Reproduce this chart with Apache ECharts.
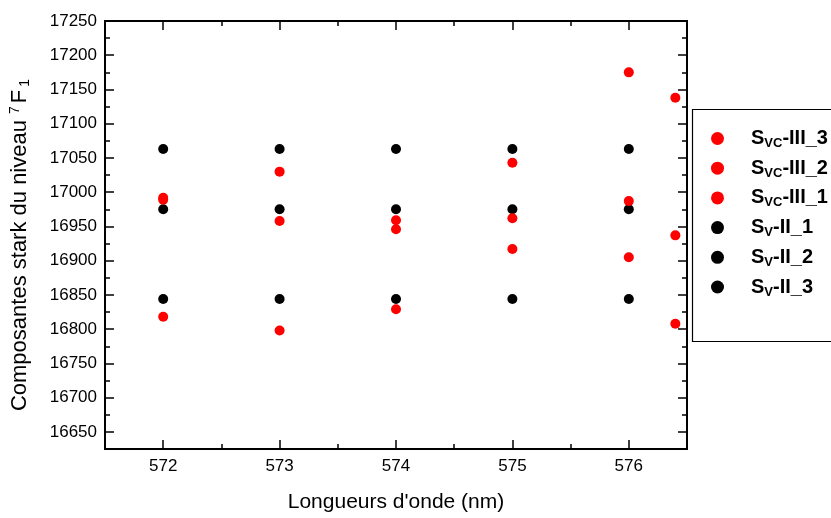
<!DOCTYPE html>
<html><head><meta charset="utf-8">
<script src="https://cdn.jsdelivr.net/npm/echarts@6/dist/echarts.min.js"></script>
<style>html,body{margin:0;padding:0;background:#fff}#c{width:831px;height:518px}</style>
</head><body><div id="c"></div>
<script>
// Data
const redWavelengths = [572, 573, 574, 575, 576, 576.4];
const blackWavelengths = [572, 573, 574, 575, 576];
const svcIII3 = [16992, 17030, 16959, 17043, 17175, 17138];
const svcIII2 = [16989, 16958, 16946, 16962, 16987, 16937];
const svcIII1 = [16818, 16798, 16829, 16917, 16905, 16808];
const svII1 = [17063, 17063, 17063, 17063, 17063];
const svII2 = [16975, 16975, 16975, 16975, 16975];
const svII3 = [16844, 16844, 16844, 16844, 16844];
const xMajorTicks = [572, 573, 574, 575, 576];
const yMajorTicks = [16650, 16700, 16750, 16800, 16850, 16900, 16950, 17000, 17050, 17100, 17150, 17200, 17250];

const FONT = '"Liberation Sans", Arial, sans-serif';
const zip = (xs, ys) => xs.map((x, i) => [x, ys[i]]);

const X_MIN = 571.5, X_MAX = 576.5, Y_MIN = 16625, Y_MAX = 17250;

function xAx(pos, major, labels) {
  return {
    type: 'value', position: pos, min: X_MIN, max: X_MAX,
    interval: 0.5,
    axisLine: { show: true, onZero: false, lineStyle: { color: '#000', width: 2 } },
    splitLine: { show: false },
    axisTick: major
      ? { show: true, inside: true, length: 9, customValues: xMajorTicks, lineStyle: { color: '#000', width: 1.5 } }
      : { show: true, inside: true, length: 5, lineStyle: { color: '#000', width: 1.5 } },
    axisLabel: labels
      ? { show: true, customValues: xMajorTicks, margin: 9, fontFamily: FONT, fontSize: 17, color: '#000', formatter: v => String(v) }
      : { show: false }
  };
}
function yAx(pos, major, labels) {
  return {
    type: 'value', position: pos, min: Y_MIN, max: Y_MAX,
    interval: 25,
    axisLine: { show: true, onZero: false, lineStyle: { color: '#000', width: 2 } },
    splitLine: { show: false },
    axisTick: major
      ? { show: true, inside: true, length: 9, customValues: yMajorTicks, lineStyle: { color: '#000', width: 1.5 } }
      : { show: true, inside: true, length: 5, lineStyle: { color: '#000', width: 1.5 } },
    axisLabel: labels
      ? { show: true, customValues: yMajorTicks, margin: 8, fontFamily: FONT, fontSize: 17, color: '#000', formatter: v => String(v) }
      : { show: false }
  };
}

const xAxes = [xAx('bottom', true, true), xAx('bottom', false, false), xAx('top', true, false), xAx('top', false, false)];
xAxes[0].name = "Longueurs d'onde (nm)";
xAxes[0].nameLocation = 'middle';
xAxes[0].nameGap = 43;
xAxes[0].nameTextStyle = { fontFamily: FONT, fontSize: 21, color: '#000' };

const yAxes = [yAx('left', true, true), yAx('left', false, false), yAx('right', true, false), yAx('right', false, false)];
yAxes[0].name = 'Composantes stark du niveau {sup|7}F{sub|1}';
yAxes[0].nameLocation = 'middle';
yAxes[0].nameGap = 73;
yAxes[0].nameTextStyle = {
  fontFamily: FONT, fontSize: 22, color: '#000', padding: [0, 20, 0, 0],
  rich: {
    sup: { fontFamily: FONT, fontSize: 14, color: '#000', padding: [0, 3, 10, 0] },
    sub: { fontFamily: FONT, fontSize: 14, color: '#000', padding: [10, 0, 0, 3] }
  }
};

const legendRich = {
  b: { fontFamily: FONT, fontSize: 20, fontWeight: 'bold', color: '#000', lineHeight: 22 },
  s: { fontFamily: FONT, fontSize: 13, fontWeight: 'bold', color: '#000', padding: [10, 0, 0, 0], lineHeight: 22 }
};
const legendNames = {
  'SVC-III_3': '{b|S}{s|VC}{b|-III_3}',
  'SVC-III_2': '{b|S}{s|VC}{b|-III_2}',
  'SVC-III_1': '{b|S}{s|VC}{b|-III_1}',
  'SV-II_1': '{b|S}{s|V}{b|-II_1}',
  'SV-II_2': '{b|S}{s|V}{b|-II_2}',
  'SV-II_3': '{b|S}{s|V}{b|-II_3}'
};

function sc(name, xs, ys, color) {
  return {
    name, type: 'scatter', xAxisIndex: 0, yAxisIndex: 0,
    data: zip(xs, ys), symbol: 'circle', symbolSize: 10,
    itemStyle: { color, opacity: 1 }, z: color === '#ff0000' ? 3 : 2
  };
}

const chart = echarts.init(document.getElementById('c'), null, { renderer: 'canvas' });
chart.setOption({
  animation: false,
  backgroundColor: '#fff',
  grid: { left: 105, top: 21, right: 144, bottom: 62, containLabel: false },
  xAxis: xAxes,
  yAxis: yAxes,
  legend: {
    orient: 'vertical', left: 706, top: 122, itemWidth: 13, itemHeight: 13, itemGap: 6.7,
    icon: 'circle', selectedMode: false,
    data: ['SVC-III_3', 'SVC-III_2', 'SVC-III_1', 'SV-II_1', 'SV-II_2', 'SV-II_3'],
    formatter: n => legendNames[n],
    textStyle: { rich: legendRich, padding: [0, 0, 0, 22] }
  },
  graphic: [{
    type: 'rect', left: 690, top: 107, z: 0,
    shape: { width: 160, height: 232 },
    style: { fill: 'none', stroke: '#000', lineWidth: 1.2 }
  }],
  series: [
    sc('SV-II_1', blackWavelengths, svII1, '#000000'),
    sc('SV-II_2', blackWavelengths, svII2, '#000000'),
    sc('SV-II_3', blackWavelengths, svII3, '#000000'),
    sc('SVC-III_3', redWavelengths, svcIII3, '#ff0000'),
    sc('SVC-III_2', redWavelengths, svcIII2, '#ff0000'),
    sc('SVC-III_1', redWavelengths, svcIII1, '#ff0000')
  ]
});
</script></body></html>
